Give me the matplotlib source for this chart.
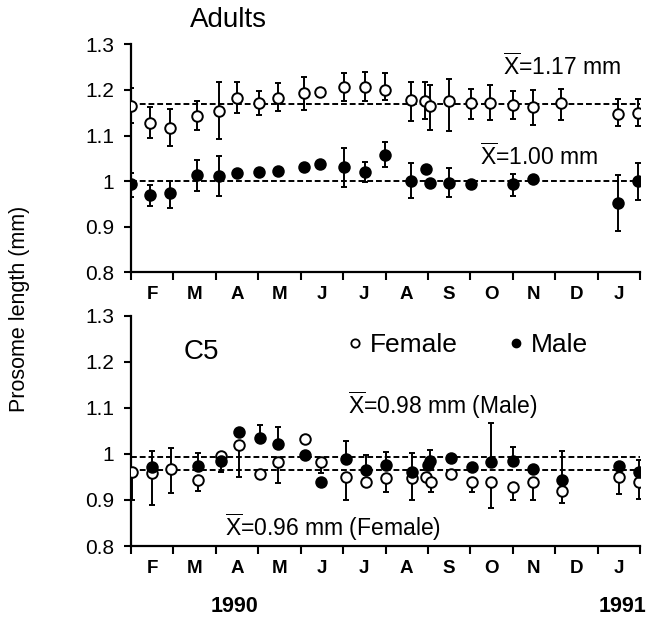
import matplotlib
matplotlib.use("Agg")
import matplotlib.pyplot as plt
from matplotlib.lines import Line2D
import numpy as np

plt.rcParams['font.family'] = ['Liberation Sans', 'DejaVu Sans']
plt.rcParams['mathtext.fontset'] = 'custom'
plt.rcParams['mathtext.rm'] = 'Liberation Sans'
plt.rcParams['mathtext.it'] = 'Liberation Sans'

# ---------------- data ----------------
month_labels = ['F', 'M', 'A', 'M', 'J', 'J', 'A', 'S', 'O', 'N', 'D', 'J']
year_labels = ['1990', '1991']

# Adults - females (x in months since 1 Feb 1990)
ad_f_x = [0.00, 0.45, 0.92, 1.55, 2.08, 2.51, 3.02, 3.46, 4.08, 4.45, 5.02, 5.51,
          5.98, 6.60, 6.93, 7.04, 7.50, 8.01, 8.46, 9.01, 9.48, 10.13, 11.48, 11.95]
ad_f_y = [1.165, 1.127, 1.117, 1.143, 1.154, 1.183, 1.171, 1.183, 1.193, 1.196, 1.206, 1.206,
          1.200, 1.177, 1.175, 1.165, 1.176, 1.171, 1.172, 1.167, 1.162, 1.171, 1.147, 1.149]
ad_f_lo = [0.038, 0.033, 0.040, 0.031, 0.062, 0.034, 0.027, 0.030, 0.037, 0.0, 0.031, 0.031,
           0.022, 0.046, 0.039, 0.053, 0.067, 0.035, 0.037, 0.031, 0.039, 0.036, 0.027, 0.029]
ad_f_hi = [0.039, 0.035, 0.042, 0.032, 0.063, 0.034, 0.027, 0.032, 0.035, 0.0, 0.031, 0.033,
           0.038, 0.040, 0.042, 0.045, 0.048, 0.031, 0.039, 0.031, 0.038, 0.031, 0.033, 0.031]

# Adults - males
ad_m_x = [0.00, 0.45, 0.92, 1.55, 2.08, 2.51, 3.02, 3.46, 4.08, 4.45, 5.02, 5.51,
          5.98, 6.60, 6.95, 7.04, 7.50, 8.01, 9.01, 9.48, 11.48, 11.95]
ad_m_y = [0.993, 0.969, 0.973, 1.013, 1.012, 1.018, 1.020, 1.023, 1.031, 1.037, 1.030, 1.019,
          1.057, 1.000, 1.026, 0.995, 0.996, 0.993, 0.993, 1.004, 0.952, 1.001]
ad_m_lo = [0.028, 0.024, 0.031, 0.034, 0.044, 0, 0, 0, 0, 0, 0.043, 0.022,
           0.026, 0.038, 0, 0, 0.031, 0, 0.025, 0, 0.062, 0.043]
ad_m_hi = [0.025, 0.022, 0.028, 0.033, 0.043, 0, 0, 0, 0, 0, 0.042, 0.022,
           0.028, 0.039, 0, 0, 0.032, 0, 0.022, 0, 0.061, 0.038]

ad_mean_f = 1.17
ad_mean_m = 1.00

# C5 - females
c5_f_x = [0.03, 0.49, 0.94, 1.57, 2.12, 2.55, 3.04, 3.47, 4.09, 4.49, 5.06, 5.55,
          6.01, 6.63, 6.96, 7.07, 7.54, 8.05, 8.48, 9.01, 9.48, 10.15, 11.50, 11.97]
c5_f_y = [0.961, 0.959, 0.967, 0.943, 0.996, 1.019, 0.956, 0.983, 1.032, 0.983, 0.949, 0.938,
          0.947, 0.947, 0.949, 0.940, 0.956, 0.938, 0.938, 0.927, 0.938, 0.919, 0.949, 0.940]
c5_f_lo = [0.061, 0.070, 0.053, 0.023, 0.035, 0.069, 0, 0.047, 0, 0.025, 0.049, 0,
           0.029, 0.047, 0, 0.022, 0, 0.020, 0.056, 0.027, 0.038, 0.026, 0.036, 0.039]
c5_f_hi = [0, 0, 0.045, 0, 0, 0, 0, 0, 0, 0, 0, 0,
           0, 0, 0, 0, 0, 0, 0, 0, 0, 0, 0, 0]

# C5 - males
c5_m_x = [0.49, 1.57, 2.12, 2.55, 3.04, 3.47, 4.09, 4.49, 5.06, 5.55, 6.01, 6.63,
          6.99, 7.04, 7.54, 8.05, 8.48, 9.01, 9.48, 10.15, 11.50, 11.97]
c5_m_y = [0.972, 0.974, 0.985, 1.048, 1.034, 1.021, 0.998, 0.940, 0.988, 0.965, 0.976, 0.961,
          0.976, 0.985, 0.990, 0.971, 0.983, 0.985, 0.967, 0.943, 0.974, 0.961]
c5_m_hi = [0.035, 0.027, 0, 0, 0.029, 0.037, 0, 0, 0.041, 0.033, 0.029, 0.040,
           0, 0.023, 0, 0, 0.083, 0.031, 0, 0.064, 0, 0.026]
c5_m_lo = [0] * len(c5_m_x)

c5_line_m = 0.993
c5_line_f = 0.966

# ---------------- figure ----------------
fig = plt.figure(figsize=(6.48, 6.18), dpi=100)
ax1 = fig.add_axes([0.2022, 0.5594, 0.7855, 0.3689])
ax2 = fig.add_axes([0.2022, 0.1165, 0.7855, 0.3727])

ms = 7.6
def draw_series(ax, x, y, lo, hi, filled):
    ax.errorbar(x, y, yerr=[lo, hi], fmt='o', ms=ms,
                mfc='black' if filled else 'white', mec='black', mew=1.4,
                ecolor='black', elinewidth=1.4, capsize=2.3, capthick=1.8,
                zorder=4 if filled else 3)

def style_axis(ax):
    ax.set_xlim(0, 12)
    ax.set_ylim(0.8, 1.3)
    for s in ['top', 'right']:
        ax.spines[s].set_visible(False)
    for s in ['left', 'bottom']:
        ax.spines[s].set_linewidth(1.6)
    ax.set_xticks(np.arange(0, 13))
    ax.set_xticklabels([])
    ax.set_xticks(np.arange(12) + 0.5, minor=True)
    ax.set_xticklabels(month_labels, minor=True, fontsize=13.5, fontweight='bold')
    ax.tick_params(axis='x', which='major', direction='out', length=5.5, width=1.5)
    ax.tick_params(axis='x', which='minor', length=0, pad=10)
    ax.set_yticks([0.8, 0.9, 1.0, 1.1, 1.2, 1.3])
    ax.set_yticklabels(['0.8', '0.9', '1', '1.1', '1.2', '1.3'], fontsize=15)
    ax.tick_params(axis='y', direction='out', length=5, width=1.5, pad=7)

dash = (0, (3.0, 1.5))
# Adults
style_axis(ax1)
ax1.axhline(ad_mean_f, color='black', lw=1.4, ls=dash, zorder=2)
ax1.axhline(ad_mean_m, color='black', lw=1.4, ls=dash, zorder=2)
draw_series(ax1, ad_f_x, ad_f_y, ad_f_lo, ad_f_hi, False)
draw_series(ax1, ad_m_x, ad_m_y, ad_m_lo, ad_m_hi, True)
ax1.text(8.76, 1.250, r'$\overline{\mathrm{X}}$=1.17 mm', fontsize=16.5, va='center', ha='left')
ax1.text(8.22, 1.053, r'$\overline{\mathrm{X}}$=1.00 mm', fontsize=16.5, va='center', ha='left')
fig.text(228 / 648, 1 - 20 / 618, 'Adults', fontsize=20, ha='center', va='center')

# C5
style_axis(ax2)
ax2.axhline(c5_line_m, color='black', lw=1.4, ls=dash, zorder=2)
ax2.axhline(c5_line_f, color='black', lw=1.4, ls=dash, zorder=2)
draw_series(ax2, c5_f_x, c5_f_y, c5_f_lo, c5_f_hi, False)
draw_series(ax2, c5_m_x, c5_m_y, c5_m_lo, c5_m_hi, True)
ax2.text(5.11, 1.106, r'$\overline{\mathrm{X}}$=0.98 mm (Male)', fontsize=16.5, va='center', ha='left')
ax2.text(2.21, 0.841, r'$\overline{\mathrm{X}}$=0.96 mm (Female)', fontsize=16.5, va='center', ha='left')
ax2.text(1.65, 1.221, 'C5', fontsize=20, va='center', ha='center')

handles = [Line2D([], [], ls='none', marker='o', ms=6, mfc='white', mec='black', mew=1.3),
           Line2D([], [], ls='none', marker='o', ms=6, mfc='black', mec='black')]
ax2.legend(handles, ['Female', 'Male'], loc='center left', bbox_to_anchor=(0.428, 0.873),
           ncol=2, frameon=False, fontsize=19, handlelength=0.5, handletextpad=0.3,
           columnspacing=1.95, borderpad=0, borderaxespad=0)

# Years and y label
fig.text(235 / 648, 1 - 607 / 618, year_labels[0], fontsize=15.5, fontweight='bold',
         ha='center', va='center')
fig.text(622 / 648, 1 - 607 / 618, year_labels[1], fontsize=15.5, fontweight='bold',
         ha='center', va='center')
fig.text(20 / 648, 0.5, 'Prosome length (mm)', fontsize=15.5, rotation=90, ha='center', va='center')

fig.savefig('out.png', dpi=100)
